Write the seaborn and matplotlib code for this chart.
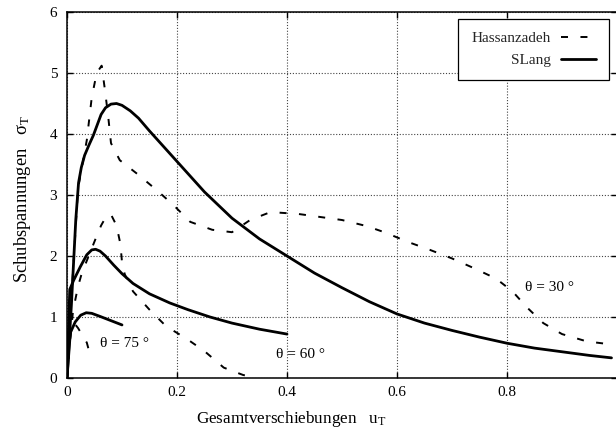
import numpy as np
import pandas as pd
import matplotlib
matplotlib.use("Agg")
import matplotlib.pyplot as plt
import seaborn as sns

# SLang curves (solid)
slang_30_u = [0, 0.008, 0.016, 0.021, 0.026, 0.032, 0.040, 0.048, 0.055, 0.062, 0.070, 0.080, 0.090,
              0.100, 0.115, 0.130, 0.150, 0.175, 0.200, 0.250, 0.300, 0.350, 0.400, 0.450, 0.500,
              0.550, 0.600, 0.650, 0.700, 0.750, 0.800, 0.850, 0.900, 0.950, 0.990]
slang_30_s = [0, 1.2, 2.6, 3.2, 3.45, 3.65, 3.82, 3.98, 4.15, 4.32, 4.43, 4.49, 4.50,
              4.47, 4.38, 4.26, 4.05, 3.80, 3.55, 3.05, 2.62, 2.28, 2.00, 1.72, 1.48,
              1.25, 1.05, 0.90, 0.78, 0.67, 0.57, 0.49, 0.43, 0.37, 0.33]

slang_60_u = [0, 0.005, 0.012, 0.024, 0.036, 0.045, 0.052, 0.060, 0.070, 0.085, 0.100, 0.120,
              0.150, 0.187, 0.220, 0.260, 0.300, 0.350, 0.400]
slang_60_s = [0, 1.45, 1.60, 1.82, 2.02, 2.10, 2.11, 2.08, 2.00, 1.85, 1.71, 1.55,
              1.38, 1.23, 1.12, 1.00, 0.90, 0.80, 0.72]

slang_75_u = [0, 0.006, 0.015, 0.025, 0.035, 0.045, 0.060, 0.080, 0.100]
slang_75_s = [0, 0.74, 0.92, 1.03, 1.07, 1.06, 1.01, 0.94, 0.87]

# Hassanzadeh curves (dashed)
hassan_30_u = [0, 0.010, 0.020, 0.036, 0.045, 0.054, 0.063, 0.069, 0.075, 0.080, 0.096, 0.130,
               0.163, 0.193, 0.224, 0.264, 0.300, 0.333, 0.370, 0.420, 0.460, 0.500, 0.545,
               0.580, 0.620, 0.660, 0.700, 0.740, 0.780, 0.810, 0.836, 0.866, 0.900, 0.945, 0.990]
hassan_30_s = [0, 1.6, 3.1, 3.9, 4.6, 5.0, 5.12, 4.72, 4.28, 3.85, 3.57, 3.33,
               3.08, 2.84, 2.56, 2.43, 2.39, 2.59, 2.72, 2.69, 2.64, 2.59, 2.49,
               2.38, 2.23, 2.10, 1.96, 1.80, 1.63, 1.42, 1.16, 0.90, 0.72, 0.60, 0.55]

hassan_60_u = [0, 0.005, 0.011, 0.020, 0.027, 0.039, 0.051, 0.062, 0.072, 0.080, 0.090, 0.097,
               0.100, 0.105, 0.120, 0.150, 0.180, 0.218, 0.250, 0.285, 0.320, 0.330]
hassan_60_s = [0, 0.6, 1.1, 1.5, 1.72, 1.99, 2.26, 2.50, 2.66, 2.68, 2.50, 2.20,
               1.90, 1.70, 1.42, 1.12, 0.85, 0.64, 0.44, 0.17, 0.05, 0.03]

hassan_75_u = [0, 0.004, 0.008, 0.013, 0.020, 0.028, 0.036, 0.039]
hassan_75_s = [0, 0.50, 0.80, 0.90, 0.82, 0.70, 0.58, 0.48]

x_ticks = [0, 0.2, 0.4, 0.6, 0.8]
x_tick_labels = ["0", "0.2", "0.4", "0.6", "0.8"]
y_ticks = [0, 1, 2, 3, 4, 5, 6]

angle_labels = ["θ = 75 °", "θ = 60 °", "θ = 30 °"]
angle_label_u = [0.060, 0.380, 0.833]
angle_label_s = [0.57, 0.38, 1.49]

sns.set_theme(style="ticks")
plt.rcParams["font.family"] = ["Liberation Serif", "DejaVu Serif"]
plt.rcParams["mathtext.fontset"] = "custom"
plt.rcParams["mathtext.rm"] = "Liberation Serif"
plt.rcParams["mathtext.it"] = "Liberation Serif:italic"

fig = plt.figure(figsize=(6.16, 4.32), dpi=100)
ax = fig.add_axes([67 / 616, 54 / 432, 550 / 616, 366 / 432])

dash = (0, (3.6, 6.4))
solid_lw = 2.0
dash_lw = 1.4

curves = [
    (hassan_30_u, hassan_30_s, dash, dash_lw, "Hassanzadeh"),
    (hassan_60_u, hassan_60_s, dash, dash_lw, None),
    (hassan_75_u, hassan_75_s, dash, dash_lw, None),
    (slang_30_u, slang_30_s, "-", solid_lw, "SLang"),
    (slang_60_u, slang_60_s, "-", solid_lw, None),
    (slang_75_u, slang_75_s, "-", solid_lw, None),
]
for u, s, ls, lw, lab in curves:
    df = pd.DataFrame({"u": u, "s": s})
    sns.lineplot(data=df, x="u", y="s", ax=ax, color="black", linestyle=ls,
                 linewidth=lw, sort=False, estimator=None, label=lab, legend=False)

for txt, u, s in zip(angle_labels, angle_label_u, angle_label_s):
    ax.text(u, s, txt, fontsize=11, ha="left", va="center", color="black")

ax.set_xlim(0, 1.0)
ax.set_ylim(0, 6)
ax.set_xticks(x_ticks)
ax.set_xticklabels(x_tick_labels)
ax.set_yticks(y_ticks)
ax.tick_params(direction="in", top=True, right=True, length=4.3, width=1.0,
               labelsize=11, colors="black")
ax.tick_params(axis="x", pad=6)
ax.tick_params(axis="y", pad=7)
ax.grid(True, linestyle=(0, (1, 1.6)), color="#444444", linewidth=0.8)
for sp in ax.spines.values():
    sp.set_linewidth(1.1)
    sp.set_color("black")

ax.set_xlabel(r"Gesamtverschiebungen   $\mathrm{u_T}$", fontsize=12.3, color="black")
ax.set_ylabel(r"Schubspannungen   $\mathrm{σ_T}$", fontsize=13.3, color="black")
ax.xaxis.set_label_coords(0.407, -0.085)
ax.yaxis.set_label_coords(-0.062, 0.49)

handles, labels = ax.get_legend_handles_labels()
leg = ax.legend(handles, labels, loc="upper right", bbox_to_anchor=(0.986, 0.982),
                borderaxespad=0, markerfirst=False, fancybox=False, framealpha=1,
                edgecolor="black", fontsize=11, handlelength=2.3, borderpad=0.85,
                labelspacing=0.55, handletextpad=0.7)
leg.get_frame().set_linewidth(0.9)

fig.savefig("out.png", dpi=100)
